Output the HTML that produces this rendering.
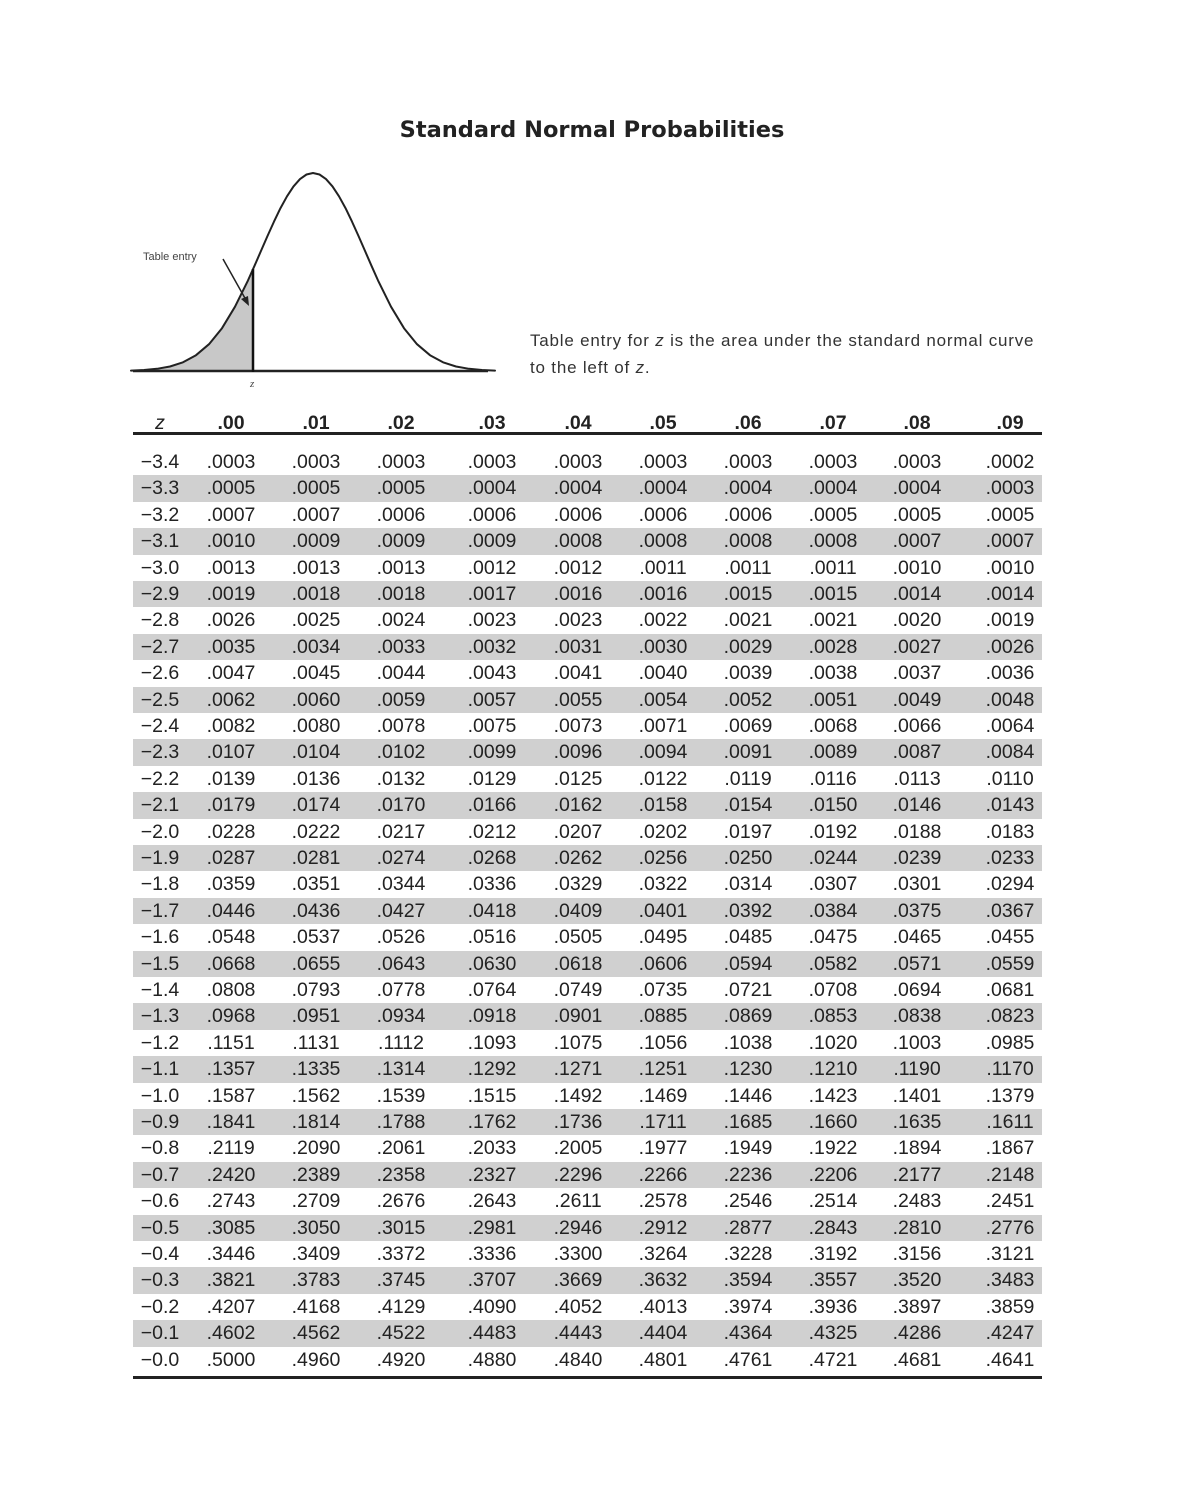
<!DOCTYPE html>
<html><head><meta charset="utf-8"><style>
body{margin:0;background:#fff;width:1200px;height:1505px;position:relative;overflow:hidden;font-family:"Liberation Sans",sans-serif;color:#222}
.title{position:absolute;left:0;width:1184px;top:117px;text-align:center;font:bold 22.5px "DejaVu Sans",sans-serif;color:#222}
.desc{position:absolute;left:530px;top:327px;font-size:17px;letter-spacing:0.8px;line-height:27px;color:#333}
.r{position:absolute;left:133px;width:909px;height:26.4px;font-size:19.5px;line-height:26.4px}
.g{background:#d0d0d0}
.r span{position:absolute;top:0;transform:translateX(-50%)}
.r span:nth-child(1){left:27px}.r span:nth-child(2){left:98px}.r span:nth-child(3){left:183px}
.r span:nth-child(4){left:268px}.r span:nth-child(5){left:359px}.r span:nth-child(6){left:445px}
.r span:nth-child(7){left:530px}.r span:nth-child(8){left:615px}.r span:nth-child(9){left:700px}
.r span:nth-child(10){left:784px}.r span:nth-child(11){left:877px}
.h{font-weight:bold}
.line{position:absolute;left:133px;width:909px;height:3px;background:#222}
</style></head><body>
<div class="title">Standard Normal Probabilities</div>
<svg style="position:absolute;left:0;top:0" width="600" height="400">
<path d="M139,370.4 L144,370 L157,368.8 L170,366.5 L183,362.3 L196,355.2 L209,344.2 L222,328.2 L235,306.7 L248,280.4 L253,269.2 L253,371 L139,371 Z" fill="#c8c8c8"/>
<polyline fill="none" stroke="#222" stroke-width="2" stroke-linejoin="round" stroke-linecap="round" points="131,370.6 144,370 157,368.8 170,366.5 183,362.3 196,355.2 209,344.2 222,328.2 235,306.7 248,280.4 254.5,265.8 261,250.9 267.5,236 274,221.6 280.5,208.1 287,196.3 293.5,186.4 300,179.1 306.5,174.5 313,173 319.5,174.5 326,179.1 332.5,186.4 339,196.3 345.5,208.1 352,221.6 358.5,236 365,250.9 371.5,265.8 378,280.4 391,306.7 404,328.2 417,344.2 430,355.2 443,362.3 456,366.5 469,368.8 482,370 495,370.6"/>
<line x1="133" y1="371" x2="488" y2="371" stroke="#222" stroke-width="2.5"/>
<line x1="253" y1="269" x2="253" y2="372" stroke="#111" stroke-width="2.5"/>
<line x1="223" y1="259" x2="246" y2="300" stroke="#222" stroke-width="1.5"/>
<polygon points="249,306 241,299 248,296" fill="#222"/>
<text x="143" y="260" font-size="11" fill="#444" font-family="Liberation Sans">Table entry</text>
<text x="250" y="387" font-size="11" fill="#444" font-style="italic" font-family="Liberation Serif">z</text>
</svg>
<div class="desc">Table entry for <i>z</i> is the area under the standard normal curve<br>to the left of <i>z</i>.</div>
<div class="r h" style="top:410px"><span style="font-weight:normal;font-style:italic">z</span><span>.00</span><span>.01</span><span>.02</span><span>.03</span><span>.04</span><span>.05</span><span>.06</span><span>.07</span><span>.08</span><span>.09</span></div>
<div class="line" style="top:432px"></div>
<div class="r" style="top:449px"><span>−3.4</span><span>.0003</span><span>.0003</span><span>.0003</span><span>.0003</span><span>.0003</span><span>.0003</span><span>.0003</span><span>.0003</span><span>.0003</span><span>.0002</span></div>
<div class="r g" style="top:475.4px"><span>−3.3</span><span>.0005</span><span>.0005</span><span>.0005</span><span>.0004</span><span>.0004</span><span>.0004</span><span>.0004</span><span>.0004</span><span>.0004</span><span>.0003</span></div>
<div class="r" style="top:501.8px"><span>−3.2</span><span>.0007</span><span>.0007</span><span>.0006</span><span>.0006</span><span>.0006</span><span>.0006</span><span>.0006</span><span>.0005</span><span>.0005</span><span>.0005</span></div>
<div class="r g" style="top:528.2px"><span>−3.1</span><span>.0010</span><span>.0009</span><span>.0009</span><span>.0009</span><span>.0008</span><span>.0008</span><span>.0008</span><span>.0008</span><span>.0007</span><span>.0007</span></div>
<div class="r" style="top:554.6px"><span>−3.0</span><span>.0013</span><span>.0013</span><span>.0013</span><span>.0012</span><span>.0012</span><span>.0011</span><span>.0011</span><span>.0011</span><span>.0010</span><span>.0010</span></div>
<div class="r g" style="top:581px"><span>−2.9</span><span>.0019</span><span>.0018</span><span>.0018</span><span>.0017</span><span>.0016</span><span>.0016</span><span>.0015</span><span>.0015</span><span>.0014</span><span>.0014</span></div>
<div class="r" style="top:607.4px"><span>−2.8</span><span>.0026</span><span>.0025</span><span>.0024</span><span>.0023</span><span>.0023</span><span>.0022</span><span>.0021</span><span>.0021</span><span>.0020</span><span>.0019</span></div>
<div class="r g" style="top:633.8px"><span>−2.7</span><span>.0035</span><span>.0034</span><span>.0033</span><span>.0032</span><span>.0031</span><span>.0030</span><span>.0029</span><span>.0028</span><span>.0027</span><span>.0026</span></div>
<div class="r" style="top:660.2px"><span>−2.6</span><span>.0047</span><span>.0045</span><span>.0044</span><span>.0043</span><span>.0041</span><span>.0040</span><span>.0039</span><span>.0038</span><span>.0037</span><span>.0036</span></div>
<div class="r g" style="top:686.6px"><span>−2.5</span><span>.0062</span><span>.0060</span><span>.0059</span><span>.0057</span><span>.0055</span><span>.0054</span><span>.0052</span><span>.0051</span><span>.0049</span><span>.0048</span></div>
<div class="r" style="top:713px"><span>−2.4</span><span>.0082</span><span>.0080</span><span>.0078</span><span>.0075</span><span>.0073</span><span>.0071</span><span>.0069</span><span>.0068</span><span>.0066</span><span>.0064</span></div>
<div class="r g" style="top:739.4px"><span>−2.3</span><span>.0107</span><span>.0104</span><span>.0102</span><span>.0099</span><span>.0096</span><span>.0094</span><span>.0091</span><span>.0089</span><span>.0087</span><span>.0084</span></div>
<div class="r" style="top:765.8px"><span>−2.2</span><span>.0139</span><span>.0136</span><span>.0132</span><span>.0129</span><span>.0125</span><span>.0122</span><span>.0119</span><span>.0116</span><span>.0113</span><span>.0110</span></div>
<div class="r g" style="top:792.2px"><span>−2.1</span><span>.0179</span><span>.0174</span><span>.0170</span><span>.0166</span><span>.0162</span><span>.0158</span><span>.0154</span><span>.0150</span><span>.0146</span><span>.0143</span></div>
<div class="r" style="top:818.6px"><span>−2.0</span><span>.0228</span><span>.0222</span><span>.0217</span><span>.0212</span><span>.0207</span><span>.0202</span><span>.0197</span><span>.0192</span><span>.0188</span><span>.0183</span></div>
<div class="r g" style="top:845px"><span>−1.9</span><span>.0287</span><span>.0281</span><span>.0274</span><span>.0268</span><span>.0262</span><span>.0256</span><span>.0250</span><span>.0244</span><span>.0239</span><span>.0233</span></div>
<div class="r" style="top:871.4px"><span>−1.8</span><span>.0359</span><span>.0351</span><span>.0344</span><span>.0336</span><span>.0329</span><span>.0322</span><span>.0314</span><span>.0307</span><span>.0301</span><span>.0294</span></div>
<div class="r g" style="top:897.8px"><span>−1.7</span><span>.0446</span><span>.0436</span><span>.0427</span><span>.0418</span><span>.0409</span><span>.0401</span><span>.0392</span><span>.0384</span><span>.0375</span><span>.0367</span></div>
<div class="r" style="top:924.2px"><span>−1.6</span><span>.0548</span><span>.0537</span><span>.0526</span><span>.0516</span><span>.0505</span><span>.0495</span><span>.0485</span><span>.0475</span><span>.0465</span><span>.0455</span></div>
<div class="r g" style="top:950.6px"><span>−1.5</span><span>.0668</span><span>.0655</span><span>.0643</span><span>.0630</span><span>.0618</span><span>.0606</span><span>.0594</span><span>.0582</span><span>.0571</span><span>.0559</span></div>
<div class="r" style="top:977px"><span>−1.4</span><span>.0808</span><span>.0793</span><span>.0778</span><span>.0764</span><span>.0749</span><span>.0735</span><span>.0721</span><span>.0708</span><span>.0694</span><span>.0681</span></div>
<div class="r g" style="top:1003.4px"><span>−1.3</span><span>.0968</span><span>.0951</span><span>.0934</span><span>.0918</span><span>.0901</span><span>.0885</span><span>.0869</span><span>.0853</span><span>.0838</span><span>.0823</span></div>
<div class="r" style="top:1029.8px"><span>−1.2</span><span>.1151</span><span>.1131</span><span>.1112</span><span>.1093</span><span>.1075</span><span>.1056</span><span>.1038</span><span>.1020</span><span>.1003</span><span>.0985</span></div>
<div class="r g" style="top:1056.2px"><span>−1.1</span><span>.1357</span><span>.1335</span><span>.1314</span><span>.1292</span><span>.1271</span><span>.1251</span><span>.1230</span><span>.1210</span><span>.1190</span><span>.1170</span></div>
<div class="r" style="top:1082.6px"><span>−1.0</span><span>.1587</span><span>.1562</span><span>.1539</span><span>.1515</span><span>.1492</span><span>.1469</span><span>.1446</span><span>.1423</span><span>.1401</span><span>.1379</span></div>
<div class="r g" style="top:1109px"><span>−0.9</span><span>.1841</span><span>.1814</span><span>.1788</span><span>.1762</span><span>.1736</span><span>.1711</span><span>.1685</span><span>.1660</span><span>.1635</span><span>.1611</span></div>
<div class="r" style="top:1135.4px"><span>−0.8</span><span>.2119</span><span>.2090</span><span>.2061</span><span>.2033</span><span>.2005</span><span>.1977</span><span>.1949</span><span>.1922</span><span>.1894</span><span>.1867</span></div>
<div class="r g" style="top:1161.8px"><span>−0.7</span><span>.2420</span><span>.2389</span><span>.2358</span><span>.2327</span><span>.2296</span><span>.2266</span><span>.2236</span><span>.2206</span><span>.2177</span><span>.2148</span></div>
<div class="r" style="top:1188.2px"><span>−0.6</span><span>.2743</span><span>.2709</span><span>.2676</span><span>.2643</span><span>.2611</span><span>.2578</span><span>.2546</span><span>.2514</span><span>.2483</span><span>.2451</span></div>
<div class="r g" style="top:1214.6px"><span>−0.5</span><span>.3085</span><span>.3050</span><span>.3015</span><span>.2981</span><span>.2946</span><span>.2912</span><span>.2877</span><span>.2843</span><span>.2810</span><span>.2776</span></div>
<div class="r" style="top:1241px"><span>−0.4</span><span>.3446</span><span>.3409</span><span>.3372</span><span>.3336</span><span>.3300</span><span>.3264</span><span>.3228</span><span>.3192</span><span>.3156</span><span>.3121</span></div>
<div class="r g" style="top:1267.4px"><span>−0.3</span><span>.3821</span><span>.3783</span><span>.3745</span><span>.3707</span><span>.3669</span><span>.3632</span><span>.3594</span><span>.3557</span><span>.3520</span><span>.3483</span></div>
<div class="r" style="top:1293.8px"><span>−0.2</span><span>.4207</span><span>.4168</span><span>.4129</span><span>.4090</span><span>.4052</span><span>.4013</span><span>.3974</span><span>.3936</span><span>.3897</span><span>.3859</span></div>
<div class="r g" style="top:1320.2px"><span>−0.1</span><span>.4602</span><span>.4562</span><span>.4522</span><span>.4483</span><span>.4443</span><span>.4404</span><span>.4364</span><span>.4325</span><span>.4286</span><span>.4247</span></div>
<div class="r" style="top:1346.6px"><span>−0.0</span><span>.5000</span><span>.4960</span><span>.4920</span><span>.4880</span><span>.4840</span><span>.4801</span><span>.4761</span><span>.4721</span><span>.4681</span><span>.4641</span></div>
<div class="line" style="top:1376px"></div>
</body></html>
